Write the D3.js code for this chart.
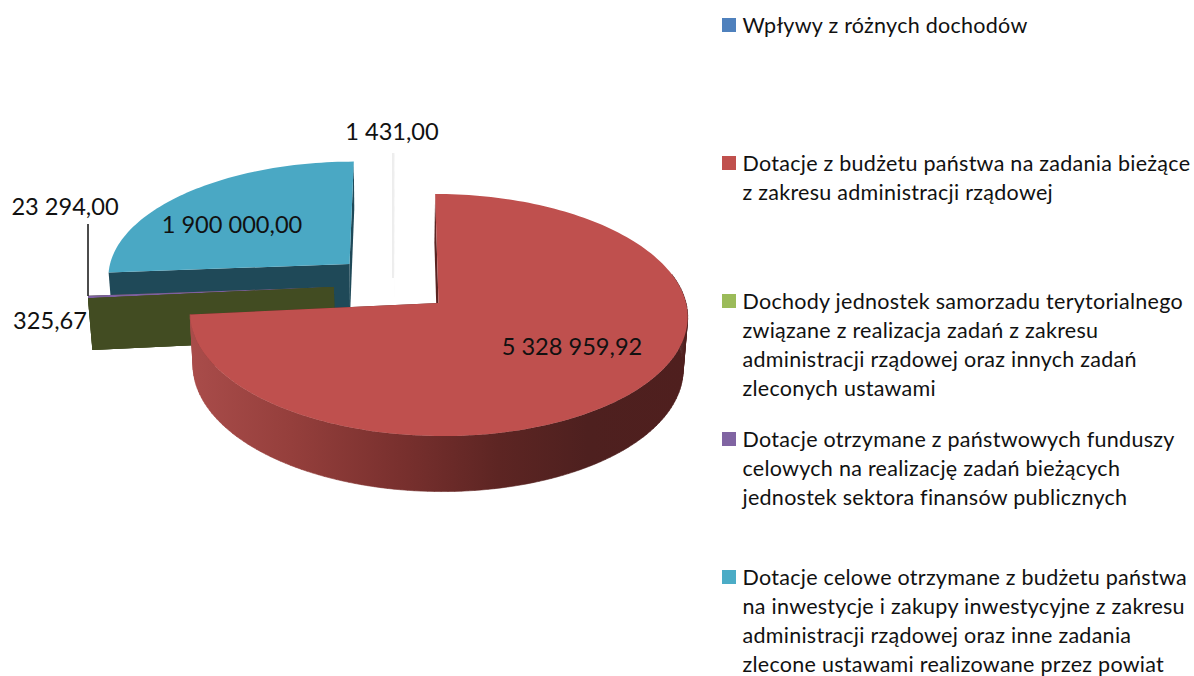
<!DOCTYPE html>
<html><head><meta charset="utf-8">
<script src="https://cdn.jsdelivr.net/npm/d3@7/dist/d3.min.js"></script>
<style>html,body{margin:0;padding:0;background:#fff}svg{display:block}text{font-family:Lato,"Open Sans",sans-serif;fill:#111}</style>
</head><body><svg id="c" width="1194" height="676"></svg>
<script>
const categories = ["Wpływy z różnych dochodów","Dotacje z budżetu państwa na zadania bieżące","Dochody jednostek samorzadu terytorialnego","Dotacje otrzymane z państwowych funduszy","Dotacje celowe otrzymane z budżetu państwa"];
const legendLines = [
 ["Wpływy z różnych dochodów"],
 ["Dotacje z budżetu państwa na zadania bieżące","z zakresu administracji rządowej"],
 ["Dochody jednostek samorzadu terytorialnego","związane z realizacja zadań z zakresu","administracji rządowej oraz innych zadań","zleconych ustawami"],
 ["Dotacje otrzymane z państwowych funduszy","celowych na realizację zadań bieżących","jednostek sektora finansów publicznych"],
 ["Dotacje celowe otrzymane z budżetu państwa","na inwestycje i zakupy inwestycyjne z zakresu","administracji rządowej oraz inne zadania","zlecone ustawami realizowane przez powiat"]
];
const values = [1431.00,5328959.92,325.67,23294.00,1900000.00];
const valueLabels = ["1 431,00","5 328 959,92","325,67","23 294,00","1 900 000,00"];
const topColors = ["#e2e2e2","#bf504e","#7d60a0","#7d60a0","#4aa8c4"];
const wallColors = ["#e2e2e2","url(#redWall)","#424c22","#424c22","#1f4958"];
const legendColors = ["#4f81bd","#c0504d","#9bbb59","#8064a2","#4bacc6"];
const explodeU = [-0.18,0,-0.426,-0.426,-0.366];
const explodeV = [0.43,0,0.135,0.135,0.336];
const labelX = [392,572,50,65,232];
const labelY = [132,347,321,207,225];

const svg = d3.select("#c");
// perspective projection of the pie's unit disc
const cx=438.5, R=247.5, S=-4, C=0.0992, A=-89.8, B=303;
const proj=(u,v)=>[cx+(R*u+S*v)/(1+C*v),(A*v+B)/(1+C*v)];
const dropPt=(u,v)=>{const p=proj(u,v);return [cx+(p[0]-cx)*0.985-0.8,p[1]+52-3.5*v];};

const arcs=d3.pie().sort(null).value(d=>d)(values);
const line=d3.line();
const rim=(a,i,f)=>d3.range(0,1.0001,1/Math.max(2,Math.ceil((a.endAngle-a.startAngle)*40))).map(t=>{
  const th=a.startAngle+(a.endAngle-a.startAngle)*t;
  return f(Math.sin(th)+explodeU[i],Math.cos(th)+explodeV[i]);
});
const edge=(th,i,f)=>[f(explodeU[i],explodeV[i]),f(Math.sin(th)+explodeU[i],Math.cos(th)+explodeV[i])];

const defs=svg.append("defs");
const grad=defs.append("linearGradient").attr("id","redWall").attr("gradientUnits","userSpaceOnUse")
  .attr("x1",192).attr("x2",686).attr("y1",0).attr("y2",0);
[[0,"#a94c4a"],[0.2,"#953f3c"],[0.42,"#79302e"],[0.62,"#5d2523"],[0.8,"#4e201f"],[1,"#4f1f1e"]]
  .forEach(s=>grad.append("stop").attr("offset",s[0]).attr("stop-color",s[1]));

const g=svg.append("g");
function drawSlice(i){
  const a=arcs[i];
  // radial walls
  [a.startAngle,a.endAngle].forEach(th=>{
    const t=edge(th,i,proj), b=edge(th,i,dropPt);
    g.append("path").attr("d",line([t[0],t[1],b[1],b[0]])+"Z").attr("fill",i===1?"#5a2422":wallColors[i]);
  });
  // outer wall: a strip of quads, so the silhouette joins the top and bottom rims smoothly
  if(i===1){
    const t=rim(a,i,proj), b=rim(a,i,dropPt);
    const quads=d3.pairs(d3.range(t.length)).filter(p=>{
      const th=a.startAngle+(a.endAngle-a.startAngle)*p[0]/(t.length-1);
      return Math.cos(th)<0.25; // only the side that faces the viewer
    }).map(p=>line([t[p[0]],t[p[1]],b[p[1]],b[p[0]]])+"Z").join("");
    g.append("path").attr("d",quads).attr("fill",wallColors[i]).attr("stroke",wallColors[i]).attr("stroke-width",0.6);
  }
  // top face
  const pts=[proj(explodeU[i],explodeV[i])].concat(rim(a,i,proj));
  g.append("path").attr("class","slice").attr("d",line(pts)+"Z").attr("fill",topColors[i]);
}
// leader lines
g.append("line").attr("x1",393).attr("x2",393).attr("y1",153).attr("y2",278).attr("stroke","#e2e2e2").attr("stroke-width",1.2);
[4,0,3,2,1].forEach(drawSlice);
g.append("line").attr("x1",88).attr("x2",88).attr("y1",224).attr("y2",296).attr("stroke","#111").attr("stroke-width",1.5);

// value labels
svg.append("g").selectAll("text").data(valueLabels).join("text")
  .attr("x",(d,i)=>labelX[i]).attr("y",(d,i)=>labelY[i]).attr("dy","0.35em")
  .attr("text-anchor","middle").attr("font-size",23.6).text(d=>d);

// legend
const ly=d3.scaleLinear().domain([0,4]).range([25,577]);
const leg=svg.append("g").selectAll("g").data(legendLines).join("g").attr("transform",(d,i)=>`translate(722,${ly(i)})`);
leg.append("rect").attr("x",0).attr("y",-7).attr("width",14).attr("height",14).attr("fill",(d,i)=>legendColors[i]);
leg.selectAll("text").data(d=>d).join("text").attr("x",20.5).attr("y",(d,j)=>j*29.1).attr("dy","0.35em")
  .attr("font-size",21.5).attr("letter-spacing",0.27).text(d=>d);
</script></body></html>
